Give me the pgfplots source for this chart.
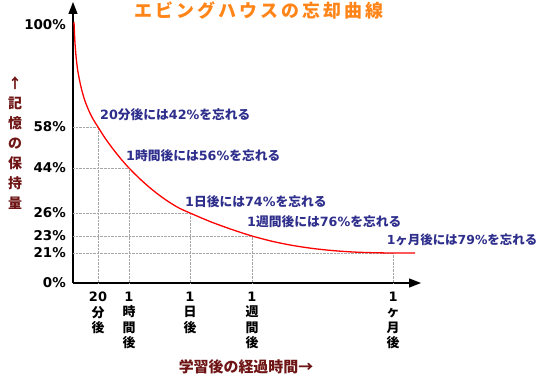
\documentclass[border=0pt]{standalone}
\usepackage{fontspec}
\setmainfont{Noto Sans CJK JP}
\newfontfamily\dv{DejaVu Sans}
\usepackage{pgfplots}
\pgfplotsset{compat=1.18}
\usetikzlibrary{arrows.meta}
\definecolor{anno}{HTML}{2E2E8C}
\definecolor{lab}{HTML}{6E1414}
\definecolor{ttl}{HTML}{FF8519}
\begin{document}
\begin{tikzpicture}[x=1bp,y=1bp]
\path[use as bounding box] (0,0) rectangle (539,375);
\begin{axis}[
  at={(73bp,92bp)}, anchor=south west,
  x=1bp, y=1bp,
  xmin=0, xmax=348, ymin=0, ymax=281,
  axis lines=left,
  axis line style={line width=1.3bp, -{Triangle[length=12bp,width=9bp]}},
  major tick length=0pt,
  clip=false,
  xtick={25,56,117,179,320},
  xticklabels={{{\dv 20}\\分\\後},{{\dv 1}\\時\\間\\後},{{\dv 1}\\日\\後},{{\dv 1}\\週\\間\\後},{{\dv 1}\\ヶ\\月\\後}},
  xticklabel style={anchor=north, inner sep=0pt, yshift=-9bp, align=center,
    font=\bfseries\fontsize{13}{15.4}\selectfont},
  ytick={0,30,47,70,115,156,258},
  yticklabels={0\%,21\%,23\%,26\%,44\%,58\%,100\%},
  yticklabel style={anchor=east, inner sep=0pt, xshift=-7bp,
    font=\dv\bfseries\fontsize{13.5}{14}\selectfont},
]
% drop lines to the axes
\addplot[ycomb, gray!70, densely dotted, mark=none] coordinates {
  (25,156) (56,115) (117,70) (179,47) (320,30)};
\addplot[xcomb, gray!70, densely dotted, mark=none] coordinates {
  (25,156) (56,115) (117,70) (179,47) (320,30)};
% forgetting curve
\addplot[red, line width=1.3bp, smooth, mark=none] coordinates {
  (1,261) (1.8,243) (3,227) (4.5,214) (6.5,203) (9,192) (12,182) (16,172)
  (20,164) (25,156)
  (32,145) (40,134) (48,124) (56,115) (66,105) (76,96) (86,88) (96,81)
  (106,75) (117,70) (137,61.5) (158,53.8) (179,47) (200,41.5) (220,37.5)
  (240,34.5) (260,32.4) (280,31) (300,30.3) (320,30) (342,30)};
\begin{scope}[every node/.style={anchor=west, inner sep=0pt, text=anno,
    font=\bfseries\fontsize{12.8}{14}\selectfont}]
\node at (axis cs:27,168) {{\dv 20}分後には{\dv 42\%}を忘れる};
\node at (axis cs:53,127) {{\dv 1}時間後には{\dv 56\%}を忘れる};
\node at (axis cs:112,81) {{\dv 1}日後には{\dv 74\%}を忘れる};
\node at (axis cs:174,61) {{\dv 1}週間後には{\dv 76\%}を忘れる};
\node[anchor=east, font=\bfseries\fontsize{12.5}{14}\selectfont] at (axis cs:464.5,43) {{\dv 1}ヶ月後には{\dv 79\%}を忘れる};
\end{scope}
\end{axis}
\node[text=ttl, font=\bfseries\fontsize{18}{20}\selectfont] at (259,364)
  {エ\,ビ\,ン\,グ\,ハ\,ウ\,ス\,の\,忘\,却\,曲\,線};
\node[text=lab, align=center, font=\bfseries\fontsize{14}{20}\selectfont] at (15,232)
  {↑\\記\\憶\\の\\保\\持\\量};
\node[text=lab, font=\bfseries\fontsize{15}{17}\selectfont] at (246,8)
  {学習後の経過時間→};
\end{tikzpicture}
\end{document}
